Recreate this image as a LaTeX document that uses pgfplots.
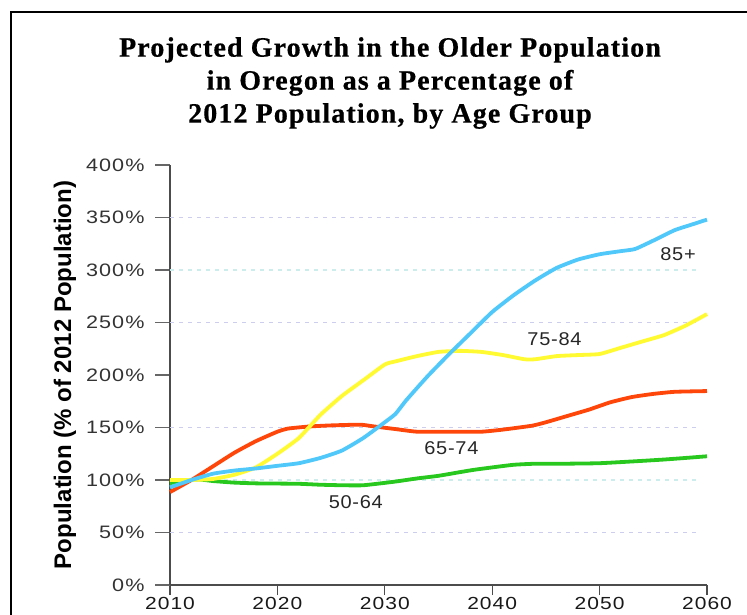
\documentclass[border=0pt]{standalone}
\usepackage{fontspec}
\setmainfont{Liberation Sans}
\newfontfamily\titlefont[LetterSpace=4,FakeBold=0.6]{Liberation Serif}
\newfontfamily\tickfont[FakeStretch=1.2,LetterSpace=6]{Liberation Sans}
\newfontfamily\curvefont[FakeStretch=1.08,LetterSpace=4]{Liberation Sans}
\usepackage{pgfplots}
\pgfplotsset{compat=1.18}
\definecolor{cyanl}{RGB}{80,200,250}
\definecolor{yell}{RGB}{255,250,50}
\definecolor{redl}{RGB}{255,70,10}
\definecolor{greenl}{RGB}{40,200,30}
\definecolor{gridA}{RGB}{205,205,238}
\definecolor{gridB}{RGB}{205,236,236}
\begin{document}
\begin{tikzpicture}[x=1pt,y=1pt]
\useasboundingbox (0,0) rectangle (747,614);
\draw[line width=2pt,black] (11,-20) -- (11,602) -- (770,602);
\node[align=center,font=\titlefont\bfseries\fontsize{28}{33}\selectfont] at (390,531)
 {Projected Growth in the Older Population\\in Oregon as a Percentage of\\2012 Population, by Age Group};
\begin{axis}[
  at={(170pt,29pt)}, anchor=south west,
  scale only axis, width=537pt, height=420pt,
  xmin=2010, xmax=2060, ymin=0, ymax=400,
  axis x line=bottom, axis y line=left,
  axis line style={-, black!70, line width=1.3pt},
  tick align=outside,
  xtick={2010,2020,2030,2040,2050,2060},
  xticklabels={2010,2020,2030,2040,2050,2060},
  ytick={0,50,100,150,200,250,300,350,400},
  yticklabels={0\%,50\%,100\%,150\%,200\%,250\%,300\%,350\%,400\%},
  ytick style={black!60, line width=1.3pt, /pgfplots/major tick length=15pt},
  xtick style={black!70, line width=1.3pt, /pgfplots/major tick length=10pt},
  yticklabel style={font=\tickfont\fontsize{18}{18}\selectfont, text=black!80, inner sep=0pt, anchor=east, xshift=-21pt},
  xticklabel style={font=\tickfont\fontsize{17.5}{17.5}\selectfont, text=black!90, inner sep=0pt, anchor=north, yshift=-8pt},
  ylabel={\bfseries Population (\% of 2012 Population)},
  ylabel style={font=\fontsize{24}{24}\selectfont, at={(axis description cs:-0.1955,0.5)}, anchor=center},
  clip=false,
  every axis plot/.append style={line width=3.8pt, line join=round},
]
\foreach \v/\c in {50/gridA,100/gridB,150/gridA,250/gridA,300/gridB,350/gridA}{
  \edef\tmp{\noexpand\draw[\c, line width=1.2pt, dash pattern=on 4pt off 5pt] (axis cs:2010,\v) -- (axis cs:2059.4,\v);}\tmp
}
\addplot[greenl, smooth, tension=0.3] coordinates {
(2010,97) (2012.5,100.6) (2014,99) (2016,97.5) (2018,96.8) (2020,96.6) (2022,96.4) (2024,95.5) (2026,95) (2028,95) (2030.9,98.4) (2033,101.5) (2035,104) (2037,107.5) (2038.3,109.7) (2040,112) (2042,114.5) (2044,115.5) (2046.5,115.5) (2050,116) (2053.6,118) (2056,119.5) (2058,121) (2060,122.6)};
\addplot[redl, smooth, tension=0.3] coordinates {
(2010,88.5) (2012,100) (2014,113) (2016,126) (2018,137) (2020,146) (2021,149) (2023,151) (2025,152) (2027.7,152.7) (2029,151) (2031,148.5) (2033,146) (2036,146) (2039,146) (2041,148) (2043.7,151.7) (2045,155) (2047,161) (2049,167) (2051,174) (2053,179) (2055,182) (2057,184) (2060,184.7)};
\addplot[yell, smooth, tension=0.3] coordinates {
(2010,100) (2012,100) (2014,101) (2016,105) (2018,112) (2020,125) (2022,140) (2024,162) (2026,180) (2028,195) (2030,210) (2031,213) (2033,218) (2035,222) (2037,223) (2039,222) (2041,219) (2043,215) (2044,215) (2046,218) (2048,219) (2050,220) (2052,226) (2054,232) (2056,238) (2058,247) (2060,258)};
\addplot[cyanl, smooth, tension=0.3] coordinates {
(2010,93) (2012,100) (2014,106) (2016,109) (2018,111) (2020,113.5) (2022,116) (2024,121) (2026,128) (2028,140) (2030,155) (2031,163) (2032,176) (2034,199) (2036,220) (2038,240) (2040,260) (2042,276) (2044,290) (2046,302) (2048,310) (2050,315) (2052,318) (2053.3,320) (2055,328) (2057,338) (2058.5,343) (2060,348)};
\node[font=\curvefont\fontsize{18.5}{18.5}\selectfont, text=black!85] at (axis cs:2057.3,315) {85+};
\node[font=\curvefont\fontsize{18.5}{18.5}\selectfont, text=black!85] at (axis cs:2045.8,234) {75-84};
\node[font=\curvefont\fontsize{18.5}{18.5}\selectfont, text=black!85] at (axis cs:2036.2,130) {65-74};
\node[font=\curvefont\fontsize{18.5}{18.5}\selectfont, text=black!85] at (axis cs:2027.3,79) {50-64};
\end{axis}
\end{tikzpicture}
\end{document}
